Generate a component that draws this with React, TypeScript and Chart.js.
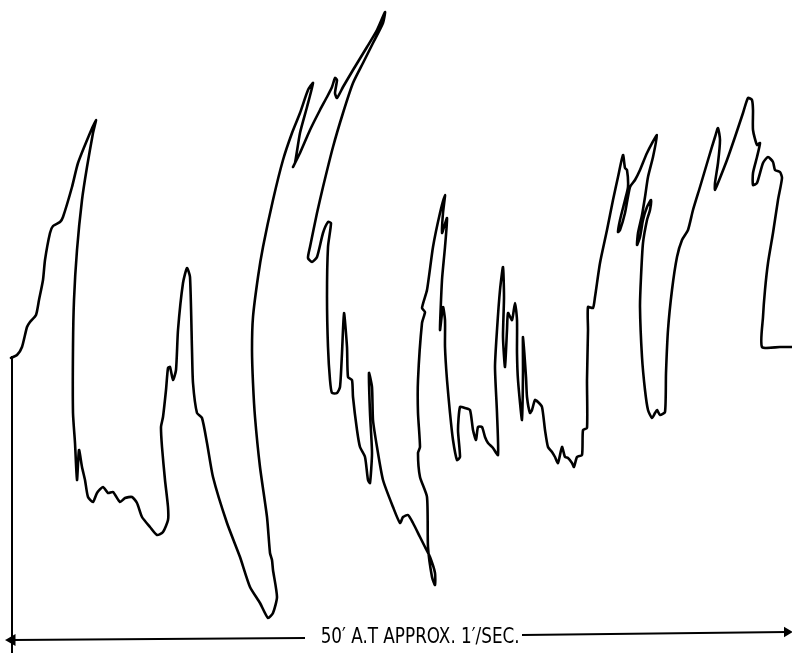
import React, { useEffect, useRef } from "react";
import { Chart, registerables } from "chart.js";

Chart.register(...registerables);

// Recorder trace (x: chart travel units, y: pen depth units from top)
const wave1: number[][] = [
  [11, 358], [17, 355], [22, 347], [27, 327], [30, 322], [36, 315], [39, 300], [43, 280], [45, 260],
  [50, 233], [53, 226], [60, 222], [63, 217], [72, 187], [78, 163], [90, 133], [96, 120],
];
const wave2: number[][] = [
  [93, 133], [87, 167], [82, 200], [77, 250], [74, 300], [73, 347], [73, 413], [75, 443], [77, 480],
  [79, 450], [82, 467], [85, 480], [88, 497], [93, 502], [97, 493], [103, 487], [108, 493], [113, 492],
  [120, 502], [125, 498], [132, 497], [137, 503], [142, 517], [150, 527], [157, 535], [163, 532],
  [168, 520], [168, 507], [165, 480], [162, 447], [161, 427], [163, 417], [166, 390], [168, 368],
  [170, 367], [173, 380], [176, 370], [178, 330], [183, 283], [187, 268],
];
const wave3: number[][] = [
  [190, 277], [192, 350], [193, 383], [197, 413], [202, 418], [207, 443], [213, 477], [227, 523],
  [240, 557], [250, 587], [260, 603], [268, 618], [273, 613], [277, 597], [273, 570], [272, 560],
  [270, 553], [267, 517], [260, 467], [255, 417], [253, 383], [252, 350], [253, 317], [258, 277],
  [263, 247], [273, 200], [283, 160], [292, 133], [300, 113], [308, 90], [313, 83], [307, 107],
  [300, 133], [295, 163], [293, 167], [300, 153], [310, 130], [320, 110], [327, 97], [332, 87],
  [335, 78], [337, 80], [335, 93], [337, 98], [343, 87], [353, 70], [367, 47], [377, 30], [385, 12],
];
const wave4: number[][] = [
  [383, 23], [373, 43], [363, 63], [353, 83], [343, 113], [333, 147], [323, 187], [317, 213],
  [310, 247], [308, 258], [312, 262], [317, 257], [323, 233], [328, 222], [331, 223], [328, 247],
  [327, 297], [328, 347], [330, 380], [332, 393], [337, 393], [340, 387], [342, 353], [344, 313],
  [347, 347], [348, 377], [352, 380], [353, 397], [357, 430], [360, 447], [365, 457], [368, 480],
  [370, 483], [372, 453], [370, 413], [369, 373], [372, 387], [373, 420], [377, 447], [383, 480],
  [393, 507], [400, 523], [403, 517], [408, 515], [413, 523], [420, 537], [425, 547], [430, 557],
  [435, 573], [435, 585], [432, 577], [428, 547], [427, 497], [420, 477], [418, 453], [420, 447],
  [418, 413], [418, 380], [422, 323], [425, 312], [422, 308], [427, 290], [433, 247], [440, 213],
  [445, 195],
];
const wave5: number[][] = [
  [443, 213], [442, 233], [447, 218], [445, 247], [442, 280], [440, 330], [443, 307], [445, 320],
  [445, 347], [447, 380], [450, 413], [453, 440], [457, 460], [460, 457], [458, 430], [460, 407],
  [465, 408], [470, 410], [473, 430], [476, 440], [478, 427], [482, 427], [485, 437], [488, 443],
  [493, 448], [498, 455], [497, 413], [495, 367], [497, 330], [500, 290], [503, 267], [504, 297],
  [503, 337], [505, 367], [507, 330], [508, 313], [512, 320], [515, 303], [517, 320], [517, 353],
  [518, 380], [522, 420], [523, 373], [523, 337], [526, 377], [527, 397], [530, 413], [532, 410],
  [535, 400], [538, 402], [542, 407], [545, 430], [548, 447], [552, 452], [555, 457], [558, 463],
  [562, 447], [565, 457], [568, 458], [572, 463], [574, 467], [577, 457], [582, 455], [583, 430],
  [587, 428], [587, 380], [588, 330], [588, 307], [593, 308], [595, 297], [600, 263], [607, 230],
  [613, 200], [618, 177], [623, 155], [625, 168], [627, 170], [628, 187], [625, 200], [620, 220],
  [618, 232], [620, 230], [625, 213], [630, 187], [635, 180], [640, 170], [647, 153], [657, 135],
];
const wave6: number[][] = [
  [653, 157], [648, 177], [645, 197], [642, 215], [638, 233], [637, 245], [640, 237], [643, 220],
  [647, 207], [651, 200], [650, 210], [647, 220], [643, 243], [641, 277], [640, 307], [642, 357],
  [645, 390], [648, 410], [652, 418], [655, 413], [657, 410], [660, 415], [665, 412], [666, 373],
  [668, 330], [672, 290], [677, 257], [682, 240], [688, 230], [693, 210], [700, 187], [708, 160],
  [715, 137], [718, 128], [720, 140], [718, 163], [715, 183], [715, 190], [718, 183], [727, 160],
  [735, 137], [743, 113], [748, 98], [752, 100], [753, 110], [753, 130], [757, 145], [760, 143],
  [757, 157], [753, 173], [753, 185], [757, 183], [763, 163], [768, 157], [773, 162], [775, 170],
  [780, 172], [782, 178], [778, 200], [773, 233], [768, 263], [765, 290], [763, 317], [762, 347],
  [780, 347], [792, 347],
];

// Reference lines: start marker and the 50 ft scale arrow
const startLine: number[][] = [[12, 356], [12, 653]];
const arrowLeft: number[][] = [[12, 640], [305, 638]];
const arrowRight: number[][] = [[522, 635], [787, 632]];
const scaleLabel = "50\u2032 A.T APPROX. 1\u2032/SEC.";

const toPts = (arr: number[][]) => arr.map(([x, y]) => ({ x, y }));

export default function App() {
  const ref = useRef<HTMLCanvasElement | null>(null);
  useEffect(() => {
    if (!ref.current) return;
    const trace = [...wave1, ...wave2, ...wave3, ...wave4, ...wave5, ...wave6];
    const line = (data: number[][], extra: any = {}) => ({
      data: toPts(data),
      showLine: true,
      borderColor: "#000",
      backgroundColor: "#000",
      borderWidth: 2,
      pointRadius: 0,
      tension: 0,
      clip: false,
      ...extra,
    });
    const chart = new Chart(ref.current, {
      type: "scatter",
      data: {
        datasets: [
          line(trace, { borderWidth: 2.6, tension: 0.2, borderJoinStyle: "round", borderCapStyle: "round" }),
          line(startLine),
          line(arrowLeft, {
            pointRadius: [5, 0],
            pointStyle: "triangle",
            rotation: -90,
          }),
          line(arrowRight, {
            pointRadius: [0, 4],
            pointStyle: "triangle",
            rotation: 90,
          }),
        ],
      },
      options: {
        animation: false,
        responsive: false,
        maintainAspectRatio: false,
        layout: { padding: 0, autoPadding: false },
        plugins: { legend: { display: false }, tooltip: { enabled: false }, title: { display: false } },
        scales: {
          x: { type: "linear", min: 0, max: 792, display: false },
          y: { type: "linear", min: 0, max: 653, reverse: true, display: false },
        },
      },
    });
    return () => chart.destroy();
  }, []);
  return (
    <div style={{ position: "fixed", left: 0, top: 0, width: 792, height: 653, background: "#fff" }}>
      <canvas ref={ref} width={792} height={653} style={{ display: "block" }} />
      <div
        style={{
          position: "absolute",
          left: 304,
          top: 623,
          width: 222,
          textAlign: "center",
          fontFamily: "'Liberation Sans Narrow', 'DejaVu Sans Condensed', sans-serif",
          fontSize: 22,
          lineHeight: "26px",
          color: "#000",
          whiteSpace: "nowrap",
          transform: "scaleX(0.85)",
          transformOrigin: "center",
        }}
      >
        {scaleLabel}
      </div>
    </div>
  );
}
